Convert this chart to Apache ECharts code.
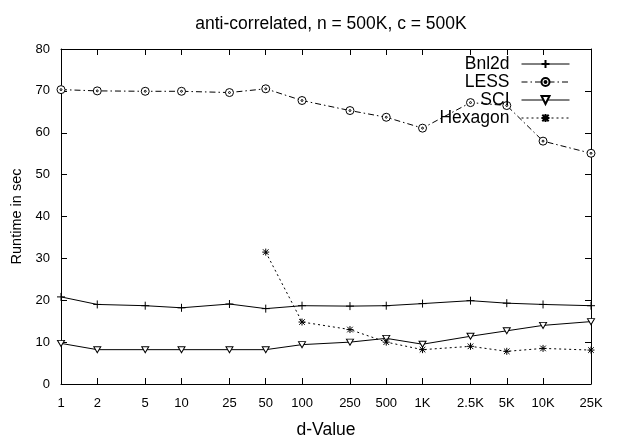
<!DOCTYPE html>
<html>
<head>
<meta charset="utf-8">
<script src="https://cdn.jsdelivr.net/npm/echarts@6/dist/echarts.min.js"></script>
<style>
html,body{margin:0;padding:0;background:#fff;}
#c{width:618px;height:439px;}
</style>
</head>
<body>
<div id="c"></div>
<script>
var xValues = [1, 2, 5, 10, 25, 50, 100, 250, 500, 1000, 2500, 5000, 10000, 25000];
var xLabels = ['1', '2', '5', '10', '25', '50', '100', '250', '500', '1K', '2.5K', '5K', '10K', '25K'];
var bnl2d = [20.8, 19.0, 18.7, 18.2, 19.1, 18.0, 18.7, 18.6, 18.7, 19.2, 19.9, 19.3, 19.0, 18.7];
var less = [70.3, 70.0, 69.9, 69.9, 69.6, 70.5, 67.7, 65.3, 63.7, 61.1, 67.2, 66.5, 58.0, 55.1];
var sci = [9.7, 8.2, 8.2, 8.2, 8.2, 8.2, 9.4, 10.0, 10.9, 9.5, 11.4, 12.7, 14.0, 14.9];
var hexagon = [null, null, null, null, null, 31.5, 14.8, 13.0, 10.0, 8.2, 9.0, 7.8, 8.5, 8.1];
var seriesNames = ['Bnl2d', 'LESS', 'SCI', 'Hexagon'];

var FONT = '"Liberation Sans", Arial, Helvetica, sans-serif';

function pairs(vals) {
  var out = [];
  for (var i = 0; i < xValues.length; i++) {
    if (vals[i] !== null) out.push([xValues[i], vals[i]]);
  }
  return out;
}
function fmtX(v) {
  var best = 0, bd = Infinity;
  for (var i = 0; i < xValues.length; i++) {
    var d = Math.abs(Math.log(v) - Math.log(xValues[i]));
    if (d < bd) { bd = d; best = i; }
  }
  return xLabels[best];
}

var PLUS = 'path://M0,5L10,5M5,0L5,10';
var CIRC = 'path://M10,5A5,5 0 1,1 0,5A5,5 0 1,1 10,5ZM6.2,5A1.2,1.2 0 1,1 3.8,5A1.2,1.2 0 1,1 6.2,5Z';
var TRI = 'path://M0,0L10,0L5,8.7Z';
var AST = 'path://M1,1L9,9M9,1L1,9M5,0L5,10M0,5L10,5';

function xAxisCfg(pos, showLabel) {
  return {
    type: 'log', logBase: 10, min: 1, max: 25000, position: pos,
    axisLine: {show: true, onZero: false, lineStyle: {color: '#000', width: 1}},
    axisTick: {show: true, inside: true, length: 6, customValues: xValues, lineStyle: {color: '#000'}},
    minorTick: {show: false},
    splitLine: {show: false},
    axisLabel: {show: showLabel, customValues: xValues, formatter: fmtX, color: '#000', fontSize: 13, fontFamily: FONT, margin: 13},
    name: showLabel ? 'd-Value' : '',
    nameLocation: 'middle', nameGap: 37,
    nameTextStyle: {color: '#000', fontSize: 17.5, fontFamily: FONT}
  };
}
function yAxisCfg(pos, showLabel) {
  return {
    type: 'value', min: 0, max: 80, interval: 10, position: pos,
    axisLine: {show: true, onZero: false, lineStyle: {color: '#000', width: 1}},
    axisTick: {show: true, inside: true, length: 6, lineStyle: {color: '#000'}},
    splitLine: {show: false},
    axisLabel: {show: showLabel, color: '#000', fontSize: 13, fontFamily: FONT, margin: 11},
    name: showLabel ? 'Runtime in sec' : '',
    nameLocation: 'middle', nameGap: 25,
    nameTextStyle: {color: '#000', fontSize: 14.5, fontFamily: FONT}
  };
}

function mkSeries(name, vals, sym, size, lineType, fill) {
  return {
    name: name, type: 'line', data: pairs(vals),
    symbol: sym, symbolSize: size, showSymbol: true,
    lineStyle: {color: '#000', width: 1, type: lineType},
    itemStyle: {color: fill, borderColor: '#000', borderWidth: 1},
    emphasis: {disabled: true},
    animation: false, clip: false, z: 3
  };
}

var chart = echarts.init(document.getElementById('c'), null, {renderer: 'canvas'});
chart.setOption({
  backgroundColor: '#fff',
  animation: false,
  title: {
    text: 'anti-correlated, n = 500K, c = 500K',
    left: 326, top: 10, textAlign: 'center',
    textStyle: {color: '#000', fontSize: 17.5, fontWeight: 'normal', fontFamily: FONT}
  },
  legend: {
    orient: 'vertical', right: 48, top: 55, padding: 0,
    align: 'right', itemWidth: 48, itemHeight: 10, itemGap: 0,
    data: seriesNames,
    lineStyle: {width: 1},
    textStyle: {color: '#000', fontSize: 17.5, fontFamily: FONT, lineHeight: 17.5, padding: [0, 7, 0, 0]},
    selectedMode: false
  },
  grid: {left: 61, right: 27, top: 49, bottom: 55, outerBoundsMode: 'none', containLabel: false},
  xAxis: [xAxisCfg('bottom', true), xAxisCfg('top', false)],
  yAxis: [yAxisCfg('left', true), yAxisCfg('right', false)],
  series: [
    mkSeries(seriesNames[0], bnl2d, PLUS, 8, 'solid', '#fff'),
    mkSeries(seriesNames[1], less, CIRC, 8, [6, 3, 1.5, 3], '#fff'),
    mkSeries(seriesNames[2], sci, TRI, [7, 6], 'solid', '#fff'),
    mkSeries(seriesNames[3], hexagon, AST, 7, [2, 3], '#fff')
  ]
});
</script>
</body>
</html>
